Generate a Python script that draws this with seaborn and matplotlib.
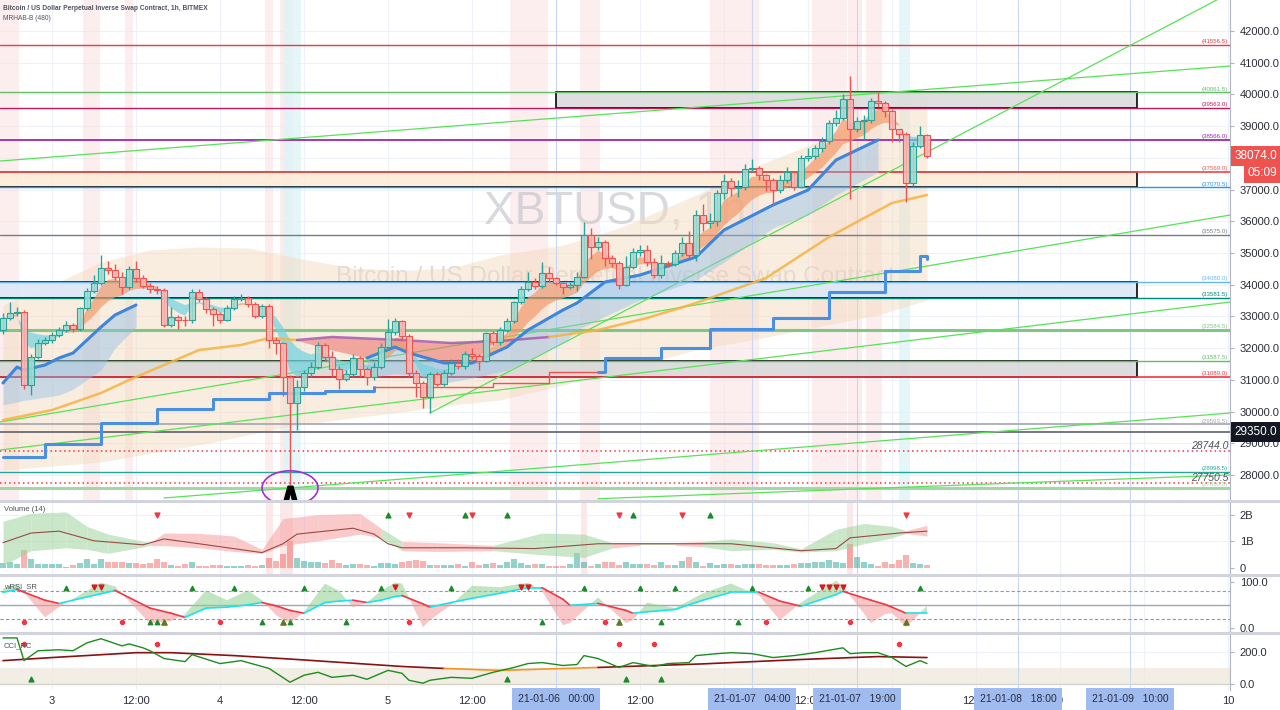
import numpy as np
import pandas as pd
import matplotlib
matplotlib.use("Agg")
import matplotlib.pyplot as plt
from matplotlib.patches import Rectangle, Ellipse
from matplotlib.lines import Line2D
import seaborn as sns

sns.set_style("white")
plt.rcParams["font.family"] = ["Liberation Sans", "DejaVu Sans"]

# ---- hourly XBTUSD bars, first bar = 2021-01-02 17:00 (hour index 0) ----
first_open = 32570
closes = [32950, 33100, 33150, 30835, 31720, 32160, 32250, 32410, 32570, 32730,
          32600, 33260, 33800, 34050, 34530, 34450, 34240, 33930, 34490, 34210,
          33960, 33850, 33830, 32730, 32980, 32900, 32880, 33770, 33540, 33230,
          33080, 32900, 33260, 33540, 33580, 33390, 33010, 33330, 32260, 32160,
          31090, 30270, 30780, 31220, 31400, 32100, 31720, 31340, 31030, 31180,
          31690, 31340, 31090, 31400, 32030, 32500, 32850, 32380, 31210, 30900,
          30460, 31180, 30870, 31210, 31530, 31450, 31810, 31750, 31600, 32470,
          32200, 32570, 32850, 33450, 33860, 34080, 33950, 34370, 34210, 34050,
          33930, 34000, 34240, 35570, 35190, 35340, 34840, 34680, 33990, 34560,
          35030, 35100, 34710, 34300, 34680, 34660, 35000, 35310, 34940, 36200,
          35950, 36000, 36890, 37270, 37050, 37080, 37650, 37680, 37460, 37300,
          36980, 37300, 37540, 37080, 37990, 38060, 38310, 38530, 39100, 39260,
          39850, 38910, 39160, 39200, 39790, 39720, 39480, 38910, 38750, 37210,
          38370, 38720, 38074]
highs = [33100, 33450, 33300, 33200, 31800, 32300, 32350, 32500, 32650, 32850,
         32800, 33300, 33900, 34300, 34940, 34750, 34650, 34400, 34600, 34750,
         34300, 34050, 33950, 33900, 33300, 33050, 33000, 33850, 33850, 33600,
         33300, 33150, 33350, 33650, 33700, 33650, 33450, 33400, 33400, 32350,
         32200, 31150, 31000, 31300, 31550, 32200, 32150, 31900, 31450, 31300,
         31800, 31750, 31400, 31550, 32150, 32920, 32950, 32900, 32450, 31300,
         30950, 31250, 31250, 31300, 31650, 31650, 31900, 32000, 31800, 32500,
         32550, 32650, 32950, 33500, 33950, 34400, 34200, 34700, 34550, 34250,
         34100, 34100, 34400, 35980, 35800, 35500, 35400, 34950, 34750, 34900,
         35150, 35250, 35250, 34850, 34950, 34750, 35100, 35500, 35700, 36350,
         36550, 36250, 37000, 37500, 37350, 37300, 37800, 37950, 37750, 37500,
         37350, 37450, 37700, 37600, 38100, 38300, 38400, 38650, 39200, 39500,
         40000, 40580, 39300, 39350, 39900, 40080, 39800, 39550, 38900, 38800,
         38500, 39000, 38750]
lows = [32450, 32900, 33000, 30700, 30520, 31650, 32100, 32150, 32350, 32500,
        32500, 32550, 33200, 33750, 34000, 34350, 34150, 33700, 33850, 34100,
        33900, 33750, 33700, 32650, 32650, 32600, 32700, 32800, 33450, 33100,
        32700, 32800, 32850, 33200, 33500, 33300, 32950, 32950, 32000, 31800,
        30500, 27680, 29420, 30650, 31100, 31350, 31600, 31100, 30700, 30950,
        31100, 31100, 30850, 31000, 31350, 31950, 32400, 32300, 31100, 30450,
        30110, 29950, 30800, 30800, 31150, 31350, 31350, 31650, 31300, 31550,
        32100, 32100, 32500, 32800, 33400, 33800, 33850, 33900, 34100, 34000,
        33700, 33850, 33800, 34200, 34800, 35100, 34600, 34550, 33850, 33950,
        34500, 34900, 34600, 34200, 34200, 34550, 34600, 34900, 34850, 34750,
        35700, 35800, 35850, 36700, 36800, 36750, 37000, 37550, 37300, 36950,
        36500, 36900, 37200, 37000, 37050, 37900, 37950, 38200, 38450, 39000,
        39200, 36700, 38800, 38600, 39100, 39600, 39300, 38500, 38500, 36610,
        37100, 38300, 38000]
volume_b = [0.18, 0.22, 0.15, 0.67, 0.33, 0.15, 0.16, 0.16, 0.15, 0.06,
            0.12, 0.18, 0.34, 0.16, 0.34, 0.24, 0.23, 0.23, 0.18, 0.18,
            0.15, 0.18, 0.34, 0.24, 0.12, 0.09, 0.15, 0.22, 0.08, 0.09,
            0.12, 0.12, 0.09, 0.09, 0.08, 0.12, 0.09, 0.12, 0.39, 0.27,
            0.51, 1.03, 0.36, 0.28, 0.22, 0.24, 0.18, 0.30, 0.20, 0.12,
            0.15, 0.15, 0.12, 0.09, 0.20, 0.18, 0.15,
            0.24, 0.28, 0.30, 0.27, 0.12, 0.12, 0.10, 0.10, 0.15, 0.08,
            0.22, 0.10, 0.16, 0.18, 0.12, 0.22, 0.33, 0.18, 0.10, 0.16,
            0.15, 0.08, 0.08, 0.08, 0.15, 0.55, 0.22, 0.08, 0.16, 0.21,
            0.21, 0.10, 0.22, 0.16, 0.15, 0.15, 0.12, 0.24, 0.12, 0.12,
            0.27, 0.42, 0.24, 0.08, 0.18, 0.12, 0.16, 0.15, 0.12, 0.15,
            0.15, 0.15, 0.10, 0.10, 0.10, 0.10, 0.16, 0.18, 0.18, 0.21,
            0.22, 0.30, 0.21,
            0.20, 0.91, 0.42, 0.21, 0.16, 0.08,
            0.22, 0.16, 0.30, 0.48, 0.18, 0.15, 0.12]

# ---- slow averages: (hour, price) knots ----
long_h = [0, 7, 14, 18, 24, 28, 34, 38, 42, 47, 57, 64, 71, 78, 85, 92, 99, 109, 118, 127, 132]
long_p = [29732, 30047, 30584, 30994, 31560, 31940, 32098, 32318, 32255, 32350, 32255,
          32160, 32224, 32350, 32571, 32949, 33422, 34210, 35504, 36576, 36828]
mid_h = [0, 2, 3, 6, 8, 10, 14, 16, 19]
mid_p = [30899, 31404, 31309, 31467, 31688, 31845, 32665, 33044, 33359]
mid2_h = [52, 56, 58, 63, 67, 72, 75, 80, 82, 86, 91, 99, 103, 110, 115, 119, 125]
mid2_p = [31690, 32035, 31845, 31530, 31530, 32035, 32571, 33202, 33422, 34085, 34305,
          34873, 35724, 36513, 36986, 37932, 38563]
blue_rib_lo = [31057, 31200, 31150, 30900, 31057, 31300, 31625, 32150, 32571, 33000, 33517,
               34148, 34715, 35787, 36197, 36828, 37553]
blue_rib_lo_left = [30205, 30300, 30350, 30450, 30521, 30700, 31309, 32000, 32665]
red_h = [42, 47, 52, 56, 58, 63, 67, 70]
red_top = [32255, 32350, 32300, 32255, 32230, 32170, 32180, 32200]
red_bot = [32240, 31940, 31690, 32035, 31845, 31530, 31530, 32150]
cloud_h = [0, 7, 14, 21, 28, 35, 42, 50, 57, 64, 71, 80, 88, 99, 108, 117, 125, 132]
cloud_up = [33359, 33990, 34715, 35094, 35188, 35157, 34841, 34526, 34450, 34526, 34936,
            35251, 35787, 36828, 37774, 38563, 39508, 40076]
cloud_lo = [28156, 28280, 28408, 28680, 28944, 29260, 29575, 29800, 29985, 30205, 30363,
            30836, 31309, 31940, 32300, 32700, 33044, 33517]
stop_h = [0, 6, 14, 22, 30, 38, 46, 53, 70, 78, 85, 86, 94, 101, 110, 118, 126, 131, 132]
stop_p = [28566, 28976, 29638, 30080, 30395, 30584, 30647, 30760, 30900, 31246, 31246,
          31688, 32003, 32602, 32949, 33769, 34431, 34904, 34810]

# ---- drawn levels ----
level_prices = [41556.5, 40061.5, 39563.0, 38566.0, 37569.0, 37070.5, 35575.0, 34080.0,
                33581.5, 32584.5, 31587.5, 31089.0, 29593.5, 28098.5, 27600.0]
level_colors = ["#f23645", "#66bb6a", "#c2185b", "#9c27b0", "#ef5350", "#2196f3", "#787b86",
                "#64b5f6", "#00897b", "#81c784", "#66bb6a", "#f23645", "#a3a6af", "#26a69a", "#a5d6a7"]
level_widths = [1, 1, 1, 1.3, 1.3, 1, 1, 1, 1, 2.2, 1, 1.2, 1.2, 1, 2.2]
dotted_levels = [28744.0, 27750.5]
last_close_line = 29350.0
box_lo = [39563.0, 37070.5, 33581.5, 31089.0]
box_hi = [40061.5, 37569.0, 34080.0, 31587.5]
box_start = [79, -1, -1, -1]
box_end = 162
box_fill = ["#dcdcdc", "#fdecd6", "#dde8f7", "#d9d9d9"]
trend_lines = [(-0.4, 37900, 175.3, 40896), (61, 29953, 175.3, 43200),
               (-0.4, 28787, 175.3, 33454), (-0.4, 29670, 175.3, 36197),
               (23, 27273, 175.3, 29953), (85, 27250, 175.3, 28000)]
pink_bands = [(-0.5, 2.3), (11.4, 13.9), (17.4, 18.6), (37.4, 38.6), (39.6, 41.4),
              (72.4, 77.9), (82.4, 85.3), (101, 108), (115.6, 120.5), (120.7, 122.7), (123.3, 125.6)]
cyan_bands = [(40.0, 42.5), (128, 129.6)]
vol_pink_bands = [(37.6, 38.6), (39.6, 41.4), (82.6, 83.4), (120.5, 121.4)]

# ---- volume panel ----
vmid_h = [0, 4, 8, 13, 20, 23, 28, 37, 40, 42, 50, 53, 55, 57, 66, 76, 85, 96, 104, 114, 119, 121, 128, 132]
vmid_v = [0.95, 1.31, 1.38, 1.02, 0.87, 1.09, 0.91, 0.58, 0.91, 1.27, 1.49, 1.27, 0.91, 0.76,
          0.76, 0.73, 0.91, 0.91, 0.91, 0.65, 0.73, 1.13, 1.31, 1.38]
vband_h = [0, 4, 9, 12, 15, 21, 23, 28, 33, 37, 40, 45, 51, 54, 57, 62, 70, 77, 83, 87, 91,
           96, 100, 104, 110, 114, 119, 123, 127, 129, 132]
vband_up = [1.75, 2.05, 2.10, 1.56, 1.27, 0.95, 1.31, 1.30, 1.20, 0.70, 1.85, 2.00, 2.04, 1.49,
            1.00, 0.95, 0.85, 1.31, 1.27, 0.95, 0.95, 0.95, 1.00, 1.09, 0.95, 0.72, 1.45, 1.67,
            1.56, 1.40, 1.60]
vband_lo = [0.10, 0.65, 0.76, 0.70, 0.55, 0.84, 0.84, 0.76, 0.62, 0.55, 0.84, 1.02, 1.27, 1.13,
            0.65, 0.62, 0.65, 0.50, 0.40, 0.75, 0.85, 0.85, 0.80, 0.65, 0.70, 0.60, 0.65, 0.91,
            1.13, 1.30, 1.20]
vband_col = "gggggrrrrrrrrgrrgggrgrgggggggr"
vol_dn_marks = [22, 58, 67, 88, 97, 129]
vol_up_marks = [55, 66, 72, 90, 101]

# ---- wRSI_SR panel ----
rsi_h = [0, 2, 6, 8, 14, 16, 21, 24, 26, 29, 32, 35, 37, 39, 41, 43, 46, 48, 50, 52, 54, 56, 57,
         60, 61, 64, 67, 71, 75, 77, 80, 81, 85, 89, 90, 92, 96, 100, 104, 108, 111, 114, 119,
         120, 124, 126, 127, 129, 132]
rsi_slow = [77, 83, 60, 53, 74, 81, 43, 32, 23, 43, 45, 50, 55, 48, 38, 32, 55, 58, 60, 55, 60,
            68, 70, 52, 45, 55, 64, 75, 87, 87, 62, 49, 53, 38, 32, 35, 40, 60, 77, 77, 58, 47,
            72, 79, 60, 51, 45, 32, 32]
rsi_fast = [85, 95, 23, 45, 98, 90, 10, 15, 30, 81, 60, 81, 60, 28, 10, 35, 96, 80, 45, 55, 80,
            98, 96, 2, 17, 50, 91, 88, 98, 80, 6, 11, 66, 11, 17, 55, 43, 75, 96, 70, 17, 55,
            102, 90, 11, 30, 32, 2, 47]
rsi_top_up = [9, 27, 33, 43, 54, 64, 83, 91, 96, 107, 115, 131]
rsi_top_dn = [13, 14, 56, 74, 75, 117, 118, 119, 120]
rsi_bot_plus = [3, 17, 31, 58, 86, 109, 121]
rsi_bot_up = [21, 22, 37, 41, 49, 77, 94, 105]
rsi_bot_tri = [23, 40, 88, 129]

# ---- CCI_RC panel ----
cci_h = [0, 2, 3, 5, 8, 10, 12, 14, 17, 18, 20, 21, 23, 26, 27, 31, 34, 38, 41, 43, 45, 47, 50,
         52, 55, 57, 58, 60, 61, 64, 67, 70, 73, 75, 77, 80, 82, 83, 85, 88, 90, 93, 95, 98, 99,
         102, 104, 107, 110, 113, 116, 120, 121, 123, 125, 127, 129, 131, 132]
cci_v = [285, 285, 145, 206, 212, 206, 255, 280, 236, 248, 224, 206, 158, 139, 182, 127, 145, 97,
         12, 55, 73, 42, 55, 30, 85, 67, 24, 6, 24, 42, 36, 73, 103, 127, 133, 115, 121, 176, 158,
         103, 133, 109, 127, 133, 176, 188, 194, 188, 164, 176, 194, 224, 188, 194, 194, 164, 109,
         145, 127]
ccima_h = [0, 7, 19, 24, 33, 42, 57, 63, 71, 85, 100, 114, 125, 132]
ccima_v = [145, 164, 194, 194, 176, 152, 109, 97, 85, 103, 125, 152, 170, 164]
cci_plus = [3, 22, 88, 93, 128]
cci_up = [4, 72, 89, 94]

# ---- time axis ----
tick_hours = [7, 19, 31, 43, 55, 67, 91, 115, 139, 151, 175]
tick_labels = ["3", "12:00", "4", "12:00", "5", "12:00", "12:00", "12:00", "12:00", "9", "10"]
grid_hours = [7, 19, 31, 43, 55, 67, 79, 91, 103, 115, 127, 139, 151, 163, 175]
marker_hours = [79, 107, 122, 145, 161]
marker_labels = ["21-01-06   00:00", "21-01-07   04:00", "21-01-07   19:00",
                 "21-01-08   18:00", "21-01-09   10:00"]

# ------------------------------------------------------------------
W, H = 1280, 710
PXH = 7.0                       # pixels per hourly bar
XMIN, XMAX = -3 / PXH, (1230 - 3) / PXH
GRID = "#eef1f7"
TXT = "#2a2e39"

fig = plt.figure(figsize=(W / 100, H / 100), dpi=100)
ax = fig.add_axes([0, 1 - 500 / H, 1230 / W, 500 / H])
axv = fig.add_axes([0, 1 - 574 / H, 1230 / W, 72 / H])
axr = fig.add_axes([0, 1 - 632 / H, 1230 / W, 55 / H])
axc = fig.add_axes([0, 1 - 690 / H, 1230 / W, 55 / H])

for a in (ax, axv, axr, axc):
    a.set_xlim(XMIN, XMAX)
    for s in ("left", "top", "bottom"):
        a.spines[s].set_visible(False)
    a.spines["right"].set_color("#b2b5be")
    a.yaxis.tick_right()
    a.tick_params(axis="y", length=3, color="#b2b5be", labelsize=8, labelcolor=TXT, pad=4)
    a.tick_params(axis="x", length=0)
    for h in grid_hours:
        a.axvline(h, color=GRID, lw=0.8, zorder=0)
    for h in marker_hours:
        a.axvline(h, color="#c9d7f2", lw=0.8, zorder=0.5)

for lo_, hi_ in pink_bands:
    ax.axvspan(lo_, hi_, color="#fbe3e3", alpha=0.6, lw=0, zorder=0.2)
for lo_, hi_ in cyan_bands:
    ax.axvspan(lo_, hi_, color="#dff4f8", alpha=0.8, lw=0, zorder=0.25)
for lo_, hi_ in vol_pink_bands:
    axv.axvspan(lo_, hi_, color="#fbe3e3", alpha=0.8, lw=0, zorder=0.2)

# ---------------- main price panel ----------------
hours = np.arange(len(closes))
c = np.array(closes, float)
o = np.array([first_open] + closes[:-1], float)
hi = np.array(highs, float)
lo = np.array(lows, float)
up = c >= o

ax.set_ylim(27210, 42978)
ax.set_yticks(np.arange(28000, 42001, 1000))
ax.set_yticklabels(["%.1f" % v for v in np.arange(28000, 42001, 1000)])
ax.set_xticks([])
for p in np.arange(28000, 42001, 1000):
    ax.axhline(p, color=GRID, lw=0.8, zorder=0)

ax.text(0.5, 0.575, "XBTUSD, 1h", transform=ax.transAxes, ha="center", va="center",
        fontsize=33, color="#b9bbc2", alpha=0.55, zorder=0.3)
ax.text(0.5, 0.445, "Bitcoin / US Dollar Perpetual Inverse Swap Contract", transform=ax.transAxes,
        ha="center", va="center", fontsize=17.5, color="#b9bbc2", alpha=0.55, zorder=0.3)

ax.fill_between(cloud_h, cloud_lo, cloud_up, color="#f3dcc0", alpha=0.5, lw=0, zorder=0.4)

for i in range(4):
    ax.add_patch(Rectangle((box_start[i], box_lo[i]), box_end - box_start[i], box_hi[i] - box_lo[i],
                           facecolor=box_fill[i], edgecolor="black", lw=1.3, alpha=0.9, zorder=1))

for p, col, lw in zip(level_prices, level_colors, level_widths):
    ax.axhline(p, color=col, lw=lw, zorder=1.2)
    ax.text(175.0, p + 25, "(%.1f)" % p, color=col, fontsize=4.4, ha="right", va="bottom", zorder=5)
for p in dotted_levels:
    ax.axhline(p, color="#f23645", lw=1.1, ls=(0, (1, 2)), zorder=1.2)
    ax.text(175.0, p + 10, "%.1f" % p, color="#50535e", fontsize=7.5, style="italic",
            ha="right", va="bottom", zorder=5)
ax.axhline(last_close_line, color="#5d606b", lw=1.2, zorder=1.2)

for h0, p0, h1, p1 in trend_lines:
    ax.plot([h0, h1], [p0, p1], color="#57e357", lw=0.9, zorder=1.3)

ax.fill_between(mid_h, blue_rib_lo_left, mid_p, color="#90bfe8", alpha=0.45, lw=0, zorder=1.4)
ax.fill_between(mid2_h, blue_rib_lo, mid2_p, color="#90bfe8", alpha=0.45, lw=0, zorder=1.4)
ax.fill_between(red_h, red_bot, red_top, color="#ee6f6a", alpha=0.55, lw=0, zorder=1.4)

# fast ribbon derived from the closes
cs = pd.Series(c)
fast = cs.ewm(span=4, adjust=False).mean().values
slow = cs.ewm(span=11, adjust=False).mean().values
ax.fill_between(hours, fast, slow, where=fast >= slow, interpolate=True, color="#f39a6b",
                alpha=0.7, lw=0, zorder=1.5)
ax.fill_between(hours, fast, slow, where=fast < slow, interpolate=True, color="#6fd3e0",
                alpha=0.7, lw=0, zorder=1.5)

lp = pd.DataFrame({"h": long_h, "p": long_p})
sns.lineplot(data=lp[lp.h <= 42], x="h", y="p", ax=ax, color="#f6b33e", lw=1.8, alpha=0.85,
             estimator=None, sort=False, zorder=1.6)
sns.lineplot(data=lp[(lp.h >= 42) & (lp.h <= 78)], x="h", y="p", ax=ax, color="#a45cb0", lw=1.8,
             alpha=0.85, estimator=None, sort=False, zorder=1.6)
sns.lineplot(data=lp[lp.h >= 78], x="h", y="p", ax=ax, color="#f6b33e", lw=1.8, alpha=0.85,
             estimator=None, sort=False, zorder=1.6)
sns.lineplot(x=mid_h, y=mid_p, ax=ax, color="#3d86dc", lw=2.2, estimator=None, sort=False, zorder=1.7)
sns.lineplot(x=mid2_h, y=mid2_p, ax=ax, color="#3d86dc", lw=2.2, estimator=None, sort=False, zorder=1.7)

sh = np.array(stop_h)
sp = np.array(stop_p)
m1 = sh <= 53
m2 = (sh >= 53) & (sh <= 85)
m3 = sh >= 85
ax.plot(sh[m1], sp[m1], drawstyle="steps-post", color="#4a90e2", lw=2.2, zorder=1.8)
ax.plot(sh[m2], sp[m2], drawstyle="steps-post", color="#f0524d", lw=1.0, zorder=1.8)
ax.plot(sh[m3], sp[m3], drawstyle="steps-post", color="#4a90e2", lw=2.2, zorder=1.8)

# candles
body_lo = np.minimum(o, c)
body_h = np.maximum(np.abs(c - o), 20)
edge = np.where(up, "#26a69a", "#ef5350")
face = [(0.65, 0.86, 0.83, 0.85) if u else (0.97, 0.72, 0.71, 0.85) for u in up]
ax.vlines(hours, lo, hi, colors=edge, lw=1.0, zorder=2)
ax.bar(hours, body_h, bottom=body_lo, width=0.72, color=face, edgecolor=edge, lw=0.8, zorder=2.1)

ax.add_patch(Ellipse((41, 27590), 8.0, 1080, fill=False, edgecolor="#9b30d9", lw=1.2, zorder=3))
ax.scatter([41], [lows[41] - 260], marker=r"$\mathbf{\wedge}$", s=110, color="black", zorder=3.1)

# ---------------- volume panel ----------------
axv.set_ylim(-0.22, 2.47)
axv.set_yticks([0, 1, 2])
axv.set_yticklabels(["0", "1B", "2B"])
axv.set_xticks([])
for v in (1, 2):
    axv.axhline(v, color=GRID, lw=0.8, zorder=0)
vcols = [(0.15, 0.65, 0.6, 0.5) if u else (0.94, 0.33, 0.31, 0.45) for u in up]
axv.bar(hours, volume_b, width=0.75, color=vcols, lw=0, zorder=1)
for k in range(len(vband_h) - 1):
    col = "#9fd49f" if vband_col[k] == "g" else "#f7a0a0"
    axv.fill_between(vband_h[k:k + 2], vband_lo[k:k + 2], vband_up[k:k + 2], color=col,
                     alpha=0.55, lw=0, zorder=1.1)
sns.lineplot(x=vmid_h, y=vmid_v, ax=axv, color="#9b4a44", lw=0.8, estimator=None, sort=False, zorder=1.2)
axv.scatter(vol_dn_marks, [2.0] * len(vol_dn_marks), marker="v", s=12, color="#f23645", zorder=2)
axv.scatter(vol_up_marks, [2.0] * len(vol_up_marks), marker="^", s=12, color="#1b8a2a", zorder=2)
axv.text(0.003, 0.87, "Volume (14)", transform=axv.transAxes, fontsize=5.5, color="#50535e")

# ---------------- wRSI_SR panel ----------------
axr.set_ylim(-8.5, 110)
axr.set_yticks([0, 100])
axr.set_yticklabels(["0.0", "100.0"])
axr.set_xticks([])
axr.axhline(80, color="#9598a1", lw=0.8, ls=(0, (3, 2)), zorder=0.6)
axr.axhline(20, color="#9598a1", lw=0.8, ls=(0, (3, 2)), zorder=0.6)
axr.axhline(50, color="#a3a6af", lw=1.0, zorder=0.6)
rs = np.array(rsi_slow, float)
rf = np.array(rsi_fast, float)
axr.fill_between(rsi_h, rs, rf, where=rf >= rs, interpolate=True, color="#8fcf8f", alpha=0.55,
                 lw=0, zorder=1)
axr.fill_between(rsi_h, rs, rf, where=rf < rs, interpolate=True, color="#f59a9a", alpha=0.55,
                 lw=0, zorder=1)
for k in range(len(rsi_h) - 1):
    col = "#19e3ec" if rs[k + 1] >= rs[k] else "#f23645"
    axr.plot(rsi_h[k:k + 2], rs[k:k + 2], color=col, lw=1.2, zorder=1.5)
axr.scatter(rsi_top_up, [87] * len(rsi_top_up), marker="^", s=10, color="#1b8a2a", zorder=2)
axr.scatter(rsi_top_dn, [88] * len(rsi_top_dn), marker="v", s=12, color="#d81b1b", zorder=2)
axr.scatter(rsi_bot_plus, [13] * len(rsi_bot_plus), marker="P", s=10, color="#f23645", zorder=2)
axr.scatter(rsi_bot_up, [13] * len(rsi_bot_up), marker="^", s=10, color="#1b8a2a", zorder=2)
axr.scatter(rsi_bot_tri, [13] * len(rsi_bot_tri), marker="^", s=14, color="#5f7a1e", zorder=2)
axr.text(0.003, 0.8, "wRSI_SR", transform=axr.transAxes, fontsize=5.5, color="#50535e")

# ---------------- CCI_RC panel ----------------
axc.set_ylim(-36, 303)
axc.set_yticks([0, 200])
axc.set_yticklabels(["0.0", "200.0"])
axc.axhspan(0, 100, color="#efe9df", alpha=0.8, lw=0, zorder=0.3)
axc.axhline(200, color=GRID, lw=0.8, zorder=0)
axc.axhline(0, color="#d8d3c9", lw=1.0, zorder=0.4)
sns.lineplot(x=cci_h, y=cci_v, ax=axc, color="#1c8c1c", lw=1.0, estimator=None, sort=False, zorder=1.5)
cm = pd.DataFrame({"h": ccima_h, "v": ccima_v})
sns.lineplot(data=cm[cm.h <= 63], x="h", y="v", ax=axc, color="#8b1010", lw=1.2,
             estimator=None, sort=False, zorder=1.4)
sns.lineplot(data=cm[(cm.h >= 63) & (cm.h <= 85)], x="h", y="v", ax=axc, color="#f7931e", lw=1.2,
             estimator=None, sort=False, zorder=1.4)
sns.lineplot(data=cm[cm.h >= 85], x="h", y="v", ax=axc, color="#8b1010", lw=1.2,
             estimator=None, sort=False, zorder=1.4)
axc.scatter(cci_plus, [248] * len(cci_plus), marker="P", s=12, color="#f23645", zorder=2)
axc.scatter(cci_up, [30] * len(cci_up), marker="^", s=12, color="#1b8a2a", zorder=2)
axc.text(0.003, 0.78, "CCI_RC", transform=axc.transAxes, fontsize=5.5, color="#50535e")

for a in (ax, axv, axr, axc):
    a.set_xlabel("")
    a.set_ylabel("")
    a.set_xlim(XMIN, XMAX)

axc.set_xticks(tick_hours)
axc.set_xticklabels(tick_labels, fontsize=8, color=TXT)
axc.tick_params(axis="x", pad=4)
for h, lab in zip(marker_hours, marker_labels):
    axc.text(h, -0.16, lab, transform=axc.get_xaxis_transform(), ha="center", va="center",
             fontsize=7.5, color=TXT, zorder=10, clip_on=False,
             bbox=dict(boxstyle="square,pad=0.55", fc="#a0bbef", ec="none"))

# panel separators
for yy in (501, 575, 633):
    fig.add_artist(Line2D([0, 1], [1 - yy / H, 1 - yy / H], color="#d1d4dc", lw=2.2))

# price labels on the scale
fig.text(1256 / W, 1 - 156 / H, "38074.0", ha="center", va="center", fontsize=8.5, color="white",
         bbox=dict(boxstyle="square,pad=0.3", fc="#ef5350", ec="none"))
fig.text(1262 / W, 1 - 173 / H, "05:09", ha="center", va="center", fontsize=8.5, color="white",
         bbox=dict(boxstyle="square,pad=0.3", fc="#ef5350", ec="none"))
fig.text(1256 / W, 1 - 432 / H, "29350.0", ha="center", va="center", fontsize=8.5, color="white",
         bbox=dict(boxstyle="square,pad=0.3", fc="#131722", ec="none"))

fig.text(3 / W, 1 - 8 / H, "Bitcoin / US Dollar Perpetual Inverse Swap Contract, 1h, BITMEX",
         fontsize=4.8, color="#50535e", fontweight="bold", va="center")
fig.text(3 / W, 1 - 18 / H, "MRHAB-B (480)", fontsize=4.8, color="#50535e", va="center")

fig.savefig("out.png", dpi=100, facecolor="white")
